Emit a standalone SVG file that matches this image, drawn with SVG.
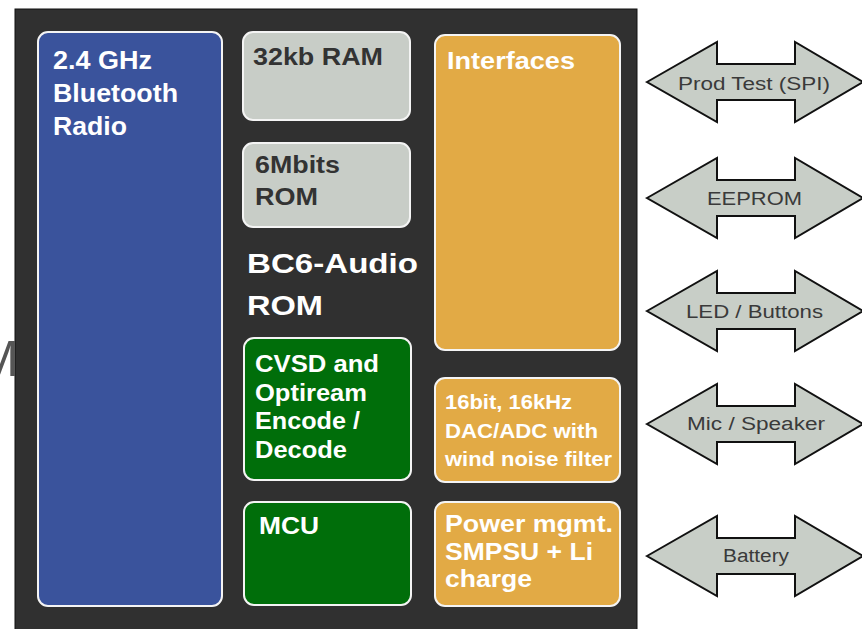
<svg xmlns="http://www.w3.org/2000/svg" width="862" height="629" viewBox="0 0 862 629">
<style>
.box{stroke:#f4f4f4;stroke-width:2}
.t{font-family:"Liberation Sans",Arial,sans-serif;font-weight:bold}
.w{fill:#ffffff}
.d{fill:#333333}
.arr{fill:#c8cec7;stroke:#111;stroke-width:2;stroke-linejoin:miter}
.al{font-family:"Liberation Sans",Arial,sans-serif;font-size:18px;fill:#3a3a3a}
</style>
<defs>
<path id="dbl" d="M0,0 L70,-40 L70,-18 L148,-18 L148,-40 L216,0 L148,40 L148,18 L70,18 L70,40 Z"/>
</defs>
<rect width="862" height="629" fill="#ffffff"/>
<text x="-23" y="376" font-family="Liberation Sans,Arial,sans-serif" font-size="50" fill="#555">M</text>
<rect id="chip" x="15" y="9" width="622" height="625" fill="#303030" stroke="#111" stroke-width="1"/>
<g id="radio">
<rect class="box" x="38" y="32" width="184" height="574" rx="10" fill="#3a539c"/>
<text class="t w" font-size="25" lengthAdjust="spacingAndGlyphs"><tspan x="53" y="69" textLength="99" lengthAdjust="spacingAndGlyphs">2.4 GHz</tspan><tspan x="53" y="102" textLength="125" lengthAdjust="spacingAndGlyphs">Bluetooth</tspan><tspan x="53" y="135" textLength="74" lengthAdjust="spacingAndGlyphs">Radio</tspan></text>
</g>
<g id="ram">
<rect class="box" x="243" y="32" width="167" height="88" rx="10" fill="#c8cdc7"/>
<text class="t d" font-size="23.5" x="253" y="65" textLength="130" lengthAdjust="spacingAndGlyphs">32kb RAM</text>
</g>
<g id="rom">
<rect class="box" x="243" y="143" width="167" height="84" rx="10" fill="#c8cdc7"/>
<text class="t d" font-size="23.5"><tspan x="255" y="173" textLength="85" lengthAdjust="spacingAndGlyphs">6Mbits</tspan><tspan x="255" y="205" textLength="63" lengthAdjust="spacingAndGlyphs">ROM</tspan></text>
</g>
<g id="bc6">
<text class="t w" font-size="28"><tspan x="247" y="273" textLength="171" lengthAdjust="spacingAndGlyphs">BC6-Audio</tspan><tspan x="247" y="315" textLength="76" lengthAdjust="spacingAndGlyphs">ROM</tspan></text>
</g>
<g id="cvsd">
<rect class="box" x="244" y="338" width="167" height="142" rx="10" fill="#006e0a"/>
<text class="t w" font-size="23"><tspan x="255" y="372" textLength="124" lengthAdjust="spacingAndGlyphs">CVSD and</tspan><tspan x="255" y="401" textLength="112" lengthAdjust="spacingAndGlyphs">Optiream</tspan><tspan x="255" y="429" textLength="105" lengthAdjust="spacingAndGlyphs">Encode /</tspan><tspan x="255" y="458" textLength="92" lengthAdjust="spacingAndGlyphs">Decode</tspan></text>
</g>
<g id="mcu">
<rect class="box" x="244" y="502" width="167" height="103" rx="10" fill="#006e0a"/>
<text class="t w" font-size="23" x="259" y="534" textLength="60" lengthAdjust="spacingAndGlyphs">MCU</text>
</g>
<g id="interfaces">
<rect class="box" x="435" y="35" width="185" height="315" rx="10" fill="#e2aa45"/>
<text class="t w" font-size="24" x="447" y="69" textLength="128" lengthAdjust="spacingAndGlyphs">Interfaces</text>
</g>
<g id="dac">
<rect class="box" x="435" y="378" width="185" height="104" rx="10" fill="#e2aa45"/>
<text class="t w" font-size="20"><tspan x="445" y="409" textLength="127" lengthAdjust="spacingAndGlyphs">16bit, 16kHz</tspan><tspan x="445" y="438" textLength="153" lengthAdjust="spacingAndGlyphs">DAC/ADC with</tspan><tspan x="445" y="466" textLength="167" lengthAdjust="spacingAndGlyphs">wind noise filter</tspan></text>
</g>
<g id="power">
<rect class="box" x="435" y="502" width="185" height="104" rx="10" fill="#e2aa45"/>
<text class="t w" font-size="24"><tspan x="445" y="532" textLength="168" lengthAdjust="spacingAndGlyphs">Power mgmt.</tspan><tspan x="445" y="560" textLength="148" lengthAdjust="spacingAndGlyphs">SMPSU + Li</tspan><tspan x="445" y="587" textLength="87" lengthAdjust="spacingAndGlyphs">charge</tspan></text>
</g>
<g id="connectors">
<g id="a-prod"><use href="#dbl" class="arr" transform="translate(647,82)"/><text class="al" x="678" y="90" textLength="152" lengthAdjust="spacingAndGlyphs">Prod Test (SPI)</text></g>
<g id="a-eeprom"><use href="#dbl" class="arr" transform="translate(647,198)"/><text class="al" x="707" y="205" textLength="95" lengthAdjust="spacingAndGlyphs">EEPROM</text></g>
<g id="a-led"><use href="#dbl" class="arr" transform="translate(647,311)"/><text class="al" x="686" y="318" textLength="137" lengthAdjust="spacingAndGlyphs">LED / Buttons</text></g>
<g id="a-mic"><use href="#dbl" class="arr" transform="translate(647,424)"/><text class="al" x="687" y="430" textLength="138" lengthAdjust="spacingAndGlyphs">Mic / Speaker</text></g>
<g id="a-bat"><use href="#dbl" class="arr" transform="translate(647,556)"/><text class="al" x="723" y="562" textLength="66" lengthAdjust="spacingAndGlyphs">Battery</text></g>
</g>
</svg>
